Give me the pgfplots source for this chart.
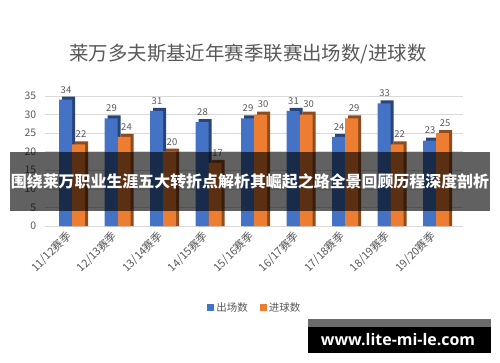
\documentclass[border=0pt]{standalone}
\usepackage{pgfplots}
\pgfplotsset{compat=1.18}
\usepackage{fontspec}
\setmainfont{Noto Sans CJK SC}
\newfontfamily\wmfont{Open Sans}
\definecolor{cblue}{HTML}{4472C4}
\definecolor{corange}{HTML}{ED7D31}
\definecolor{txt}{HTML}{595959}
\pgfplotsset{sqleg/.style={legend image code/.code={\fill[##1] (0bp,-3.5bp) rectangle (7bp,3.5bp);}}}
\begin{document}
\begin{tikzpicture}[x=1bp,y=1bp]
\path[use as bounding box, fill=white] (0,0) rectangle (500,362);
\node[text=txt, font=\fontsize{19.5}{21}\selectfont] at (248,308) {莱万多夫斯基近年赛季联赛出场数/进球数};
\begin{axis}[at={(44.7bp,136bp)}, anchor=south west, scale only axis,
  width=418.6bp, height=130bp, xmin=-0.6, xmax=8.6, ymin=0, ymax=35,
  axis line style={draw=none}, major tick length=0pt,
  ytick={0,5,...,35}, ymajorgrids, grid style={gray!30, line width=0.6pt},
  xtick={0,...,8},
  xticklabels={11/12赛季,12/13赛季,13/14赛季,14/15赛季,15/16赛季,16/17赛季,17/18赛季,18/19赛季,19/20赛季},
  xticklabel style={rotate=45, anchor=east, xshift=-4bp, yshift=-4bp, text=txt, font=\fontsize{11}{13}\selectfont},
  yticklabel style={text=txt, font=\fontsize{10.5}{12}\selectfont, xshift=-5bp},
  /pgf/number format/assume math mode=true,
  legend style={at={(0.502,-0.63)}, anchor=center, draw=none, fill=none, text=txt, font=\fontsize{10.5}{12}\selectfont, legend columns=2, /tikz/every even column/.append style={column sep=10bp}},
]
% 3D sides
\addplot[ybar, bar width=13bp, bar shift=-3.5bp, fill=cblue!60!black, draw=none, forget plot]
  coordinates {(0,34.8) (1,29.8) (2,31.8) (3,28.8) (4,29.8) (5,31.8) (6,24.8) (7,33.8) (8,23.8)};
\addplot[ybar, bar width=13bp, bar shift=-6.5bp, fill=cblue, draw=none, sqleg, nodes near coords,
  nodes near coords style={text=txt, font=\fontsize{9.5}{11}\selectfont, xshift=-6bp, yshift=3bp}]
  coordinates {(0,34) (1,29) (2,31) (3,28) (4,29) (5,31) (6,24) (7,33) (8,23)};
\addlegendentry{出场数}
\addplot[ybar, bar width=13bp, bar shift=9.5bp, fill=corange!60!black, draw=none, forget plot]
  coordinates {(0,22.8) (1,24.8) (2,20.8) (3,17.8) (4,30.8) (5,30.8) (6,29.8) (7,22.8) (8,25.8)};
\addplot[ybar, bar width=13bp, bar shift=6.5bp, fill=corange, draw=none, sqleg, nodes near coords,
  nodes near coords style={text=txt, font=\fontsize{9.5}{11}\selectfont, xshift=9bp, yshift=3bp}]
  coordinates {(0,22) (1,24) (2,20) (3,17) (4,30) (5,30) (6,29) (7,22) (8,25)};
\addlegendentry{进球数}
\end{axis}
\fill[black, opacity=0.62] (10,151) rectangle (490,210);
\node[text=white, font=\bfseries\fontsize{16}{18}\selectfont] at (250,181) {围绕莱万职业生涯五大转折点解析其崛起之路全景回顾历程深度剖析};
\fill[black!58] (308,35) rectangle (491,43);
\fill[black] (308,9.3) rectangle (491,35);
\node[text=white, font=\wmfont\bfseries\fontsize{16}{17}\selectfont] at (398,22) {www.lite-mi-le.com};
\end{tikzpicture}
\end{document}
